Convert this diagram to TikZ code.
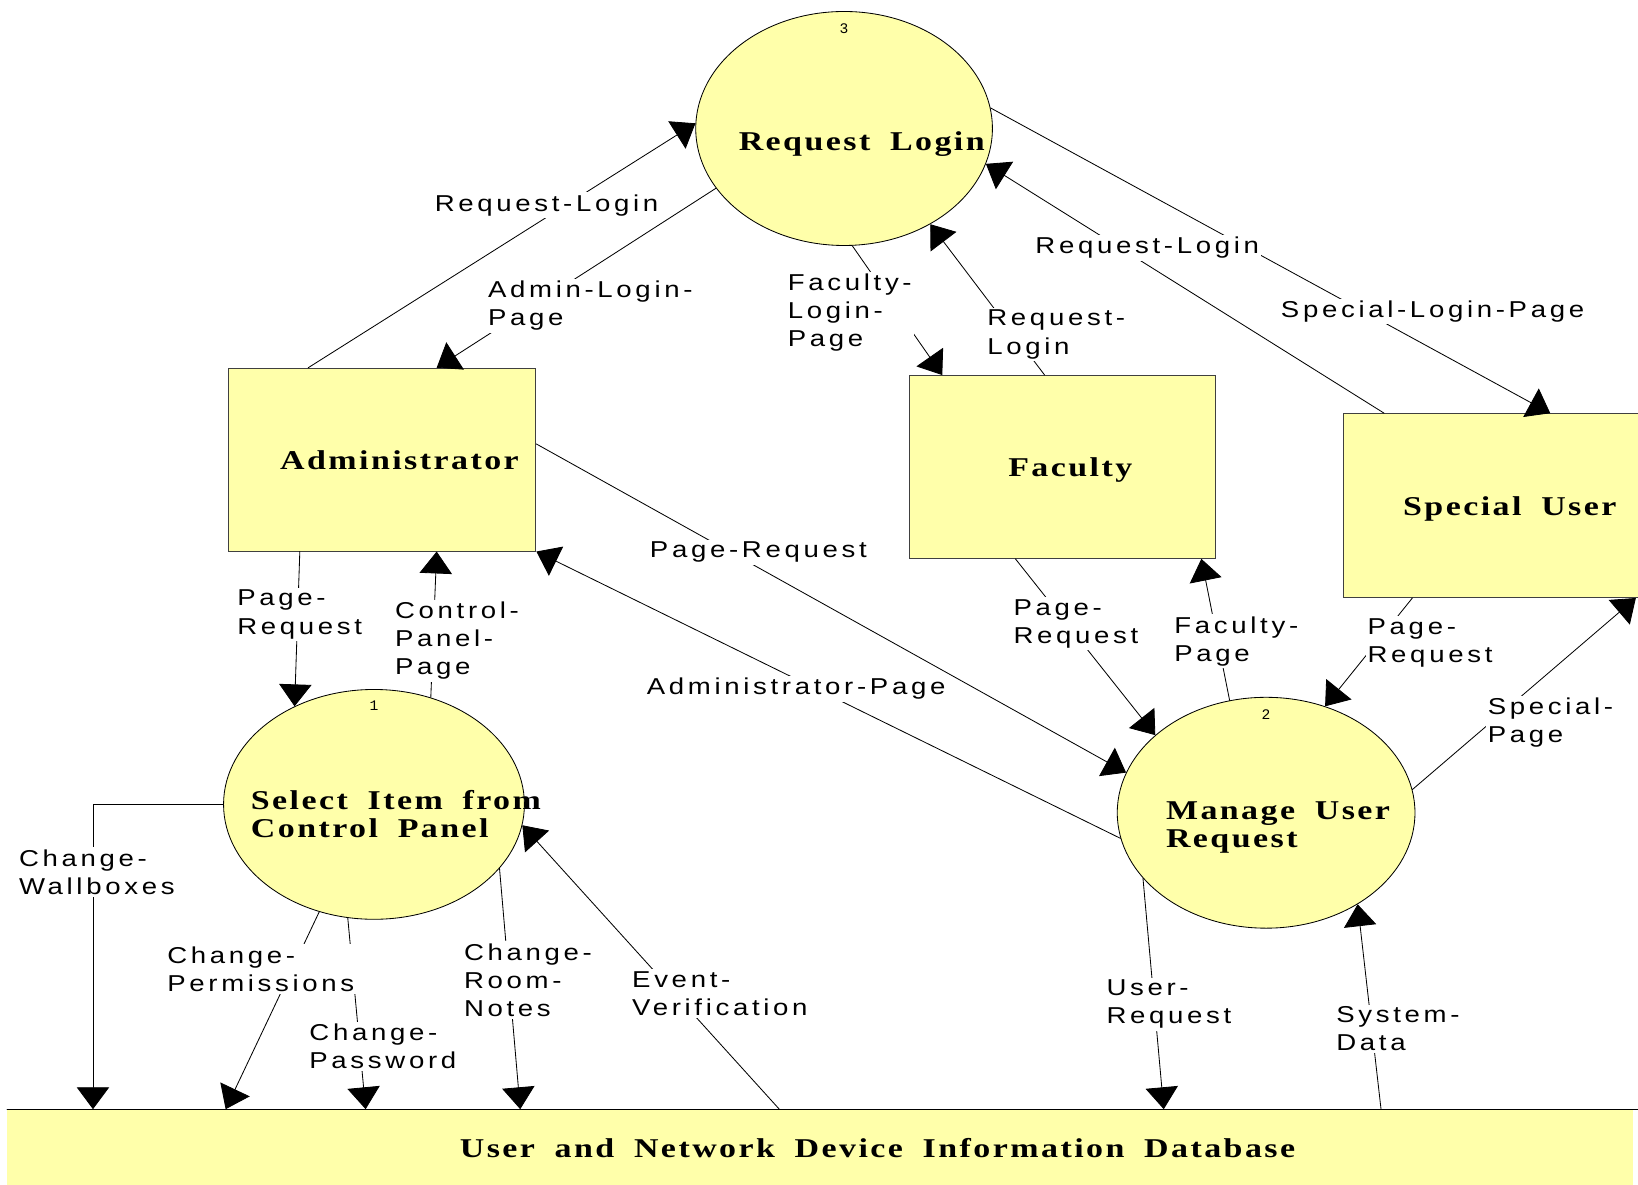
\documentclass[tikz,border=0pt]{standalone}
\usepackage{fontspec}
\usetikzlibrary{shapes.geometric,arrows.meta,positioning}
\newfontfamily\flowfont[FakeStretch=1.2,LetterSpace=16]{Liberation Sans}
\newfontfamily\namefont[FakeStretch=1.25,LetterSpace=9,WordSpace=1.8]{Liberation Serif}
\newfontfamily\numfont{Liberation Mono}

\begin{document}
\begin{tikzpicture}
	[x=1pt,y=-1pt,line cap=round,
	%Styles
	process/.style={ellipse,draw=black,fill=procfill,line width=0.8pt,inner sep=0pt},
	entity/.style={rectangle,draw=black!75,fill=procfill,line width=0.9pt,inner sep=0pt},
	store/.style={rectangle,fill=procfill,inner sep=0pt},
	nametext/.style={font=\namefont\bfseries\fontsize{26}{27}\selectfont,align=left,anchor=base west,inner sep=0pt},
	flowtext/.style={font=\flowfont\fontsize{22}{27}\selectfont,align=left,anchor=base west,fill=white,inner sep=2pt},
	num/.style={font=\numfont\fontsize{14}{14}\selectfont,inner sep=0pt},
	flow/.style={-{Triangle[length=21pt,width=31pt]},line width=0.8pt}
	]
	
	%Colors
	\definecolor{procfill}{RGB}{255,255,170}	%processes, entities, store
	
	\useasboundingbox (0,0) rectangle (1568,1134);
	
	%The graphic
	\node[process,minimum width=284pt,minimum height=224pt] (login) at (808,123) {};
	\node[process,minimum width=288pt,minimum height=220pt] (select) at (358,770) {};
	\node[process,minimum width=285pt,minimum height=221pt] (manage) at (1212,778) {};
	\node[entity,minimum width=294pt,minimum height=175pt] (admin) at (366,440) {};
	\node[entity,minimum width=293pt,minimum height=175pt] (faculty) at (1017,447) {};
	\node[entity,minimum width=283pt,minimum height=176pt] (special) at (1428,484) {};
	\node[store,minimum width=1556pt,minimum height=80pt] (db) at (785,1102) {};
	\draw[line width=0.9pt] (db.north west) -- ([xshift=8pt]db.north east);
	
	\node[num,below=12pt of login.north] (n3) {3};
	\node[num,below=11pt of select.north] (n1) {1};
	\node[num,below=12pt of manage.north] (n2) {2};
	
	%base of the last line
	\node[nametext] (login-t) at (707,144) {Request Login};
	\node[nametext] (admin-t) at (268,449) {Administrator};
	\node[nametext] (faculty-t) at (965,456) {Faculty};
	\node[nametext] (special-t) at (1343,493) {Special User};
	\node[nametext] (select-t) at (240,802) {Select Item from\\Control Panel};
	\node[nametext] (manage-t) at (1116,811) {Manage User\\Request};
	\node[nametext] (db-t) at (440,1108) {User and Network Device Information Database};
	
	%Request Login
	\draw[flow] ([xshift=-71pt]admin.north) -- (login.178);
	\draw[flow] (login.205) -- ([xshift=52pt]admin.north);
	\draw[flow] (login.274) -- ([xshift=-115pt]faculty.north);
	\draw[flow] ([xshift=-17pt]faculty.north) -- (login.312);
	\draw[flow] ([xshift=-103pt]special.north) -- (login.346);
	\draw[flow] (login.8) -- ([xshift=56pt]special.north);
	%Administrator
	\draw[flow] ([xshift=-79pt]admin.south) -- (select.129);
	\draw[flow] (select.62) -- ([xshift=52pt]admin.south);
	\draw[flow] ([yshift=15pt]admin.east) -- (manage.164);
	\draw[flow] (manage.190) -- (admin.south east);
	%Faculty and Special User
	\draw[flow] ([xshift=-45pt]faculty.south) -- (manage.145);
	\draw[flow] (manage.108) -- ([xshift=133pt]faculty.south);
	\draw[flow] ([xshift=-76pt]special.south) -- (manage.61);
	\draw[flow] (manage.9) -- ([xshift=-4pt]special.south east);
	%Database
	\draw[flow] (manage.208) -- ([xshift=329pt]db.north);
	\draw[flow] ([xshift=537pt]db.north) -- (manage.315);
	\draw[flow] (select.west) -| ([xshift=-696pt]db.north);
	\draw[flow] (select.243) -- ([xshift=-569pt]db.north);
	\draw[flow] (select.257) -- ([xshift=-435pt]db.north);
	\draw[flow] (select.333) -- ([xshift=-287pt]db.north);
	\draw[flow] ([xshift=-39pt]db.north) -- (select.352);
	
	%Flow labels (base of the last line)
	\node[flowtext] (rl1) at (414,202) {Request-Login};
	\node[flowtext] (alp) at (465,312) {Admin-Login-\\Page};
	\node[flowtext] (flp) at (752,332) {Faculty-\\Login-\\Page};
	\node[flowtext] (rl2) at (943,339) {Request-\\Login};
	\node[flowtext] (rl3) at (989,243) {Request-Login};
	\node[flowtext] (slp) at (1224,304) {Special-Login-Page};
	\node[flowtext] (pr1) at (225,607) {Page-\\Request};
	\node[flowtext] (cpp) at (376,646) {Control-\\Panel-\\Page};
	\node[flowtext] (pr2) at (620,534) {Page-Request};
	\node[flowtext] (adp) at (617,665) {Administrator-Page};
	\node[flowtext] (pr3) at (968,616) {Page-\\Request};
	\node[flowtext] (fap) at (1122,633) {Faculty-\\Page};
	\node[flowtext] (pr4) at (1307,634) {Page-\\Request};
	\node[flowtext] (spp) at (1422,711) {Special-\\Page};
	\node[flowtext] (usr) at (1057,980) {User-\\Request};
	\node[flowtext] (syd) at (1277,1006) {System-\\Data};
	\node[flowtext] (cwb) at (16,856) {Change-\\Wallboxes};
	\node[flowtext] (cpe) at (158,949) {Change-\\Permissions};
	\node[flowtext] (cpw) at (294,1023) {Change-\\Password};
	\node[flowtext] (crn) at (442,973) {Change-\\Room-\\Notes};
	\node[flowtext] (evv) at (603,972) {Event-\\Verification};
\end{tikzpicture}
\end{document}
